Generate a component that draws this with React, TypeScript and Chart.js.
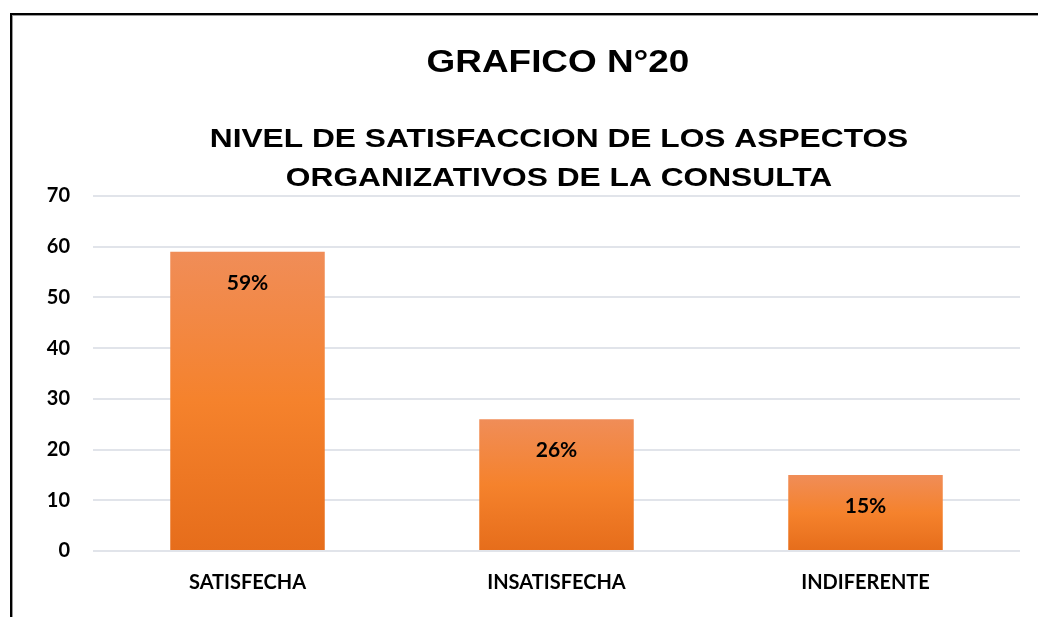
import React, { useEffect, useRef } from "react";
import { Chart, registerables } from "chart.js";

Chart.register(...registerables);

const categories = ["SATISFECHA", "INSATISFECHA", "INDIFERENTE"];
const values = [59, 26, 15];
const valueLabels = ["59%", "26%", "15%"];
const titleText = "GRAFICO N°20";
const subtitleLines = ["NIVEL DE SATISFACCION DE LOS ASPECTOS", "ORGANIZATIVOS DE LA CONSULTA"];

const labelFont = "Lato, 'Open Sans', sans-serif";

export default function App() {
  const ref = useRef<HTMLCanvasElement | null>(null);

  useEffect(() => {
    const canvas = ref.current;
    if (!canvas) return;

    const drawStretched = (ctx: any, text: string, cx: number, y: number, sx: number) => {
      ctx.save();
      ctx.translate(cx, y);
      ctx.scale(sx, 1);
      ctx.fillText(text, 0, 0);
      ctx.restore();
    };

    const titlePlugin = {
      id: "titles",
      afterDraw(chart: any) {
        const ctx = chart.ctx;
        ctx.save();
        ctx.fillStyle = "#000";
        ctx.textAlign = "center";
        ctx.textBaseline = "alphabetic";
        ctx.font = "bold 31px 'Liberation Sans', Arial, sans-serif";
        drawStretched(ctx, titleText, 558, 72, 1.19);
        ctx.font = "bold 26px 'Liberation Sans', Arial, sans-serif";
        drawStretched(ctx, subtitleLines[0], 559, 147, 1.22);
        drawStretched(ctx, subtitleLines[1], 559, 186, 1.22);
        ctx.restore();
      },
    };

    const valuePlugin = {
      id: "values",
      afterDatasetsDraw(chart: any) {
        const ctx = chart.ctx;
        const meta = chart.getDatasetMeta(0);
        ctx.save();
        ctx.fillStyle = "#000";
        ctx.textAlign = "center";
        ctx.textBaseline = "middle";
        ctx.font = `bold 21px ${labelFont}`;
        meta.data.forEach((bar: any, i: number) => {
          ctx.fillText(valueLabels[i], bar.x, bar.y + 31);
        });
        ctx.restore();
      },
    };

    const chart = new Chart(canvas, {
      type: "bar",
      data: {
        labels: categories,
        datasets: [
          {
            data: values,
            barPercentage: 0.5,
            categoryPercentage: 1,
            backgroundColor: (c: any) => {
              const ch = c.chart;
              const ys = ch.scales && ch.scales.y;
              if (!ys || c.raw == null) return "#F5822E";
              const top = ys.getPixelForValue(c.raw);
              const bottom = ys.getPixelForValue(0);
              if (!isFinite(top) || !isFinite(bottom) || top === bottom) return "#F5822E";
              const g = ch.ctx.createLinearGradient(0, top, 0, bottom);
              g.addColorStop(0, "#F08D58");
              g.addColorStop(0.5, "#F5822C");
              g.addColorStop(1, "#E66D1B");
              return g;
            },
            borderWidth: 0,
          },
        ],
      },
      options: {
        responsive: false,
        animation: false,
        maintainAspectRatio: false,
        layout: { padding: { top: 196, left: 10, right: 18, bottom: 0 } },
        plugins: {
          legend: { display: false },
          title: { display: false },
          tooltip: { enabled: false },
        },
        scales: {
          x: {
            grid: { display: false, drawTicks: false },
            border: { display: false },
            ticks: {
              color: "#000",
              padding: 20,
              font: { family: labelFont, weight: "bold", size: 20 },
            },
            afterFit(scale: any) {
              scale.height = 66;
            },
          },
          y: {
            min: 0,
            max: 70,
            ticks: {
              stepSize: 10,
              color: "#000",
              padding: 23,
              font: { family: labelFont, weight: "bold", size: 20 },
            },
            grid: { color: "#E1E4EA", lineWidth: 2, drawTicks: false },
            border: { display: false },
            afterFit(scale: any) {
              scale.width = 83;
            },
          },
        },
      },
      plugins: [titlePlugin, valuePlugin],
    } as any);

    return () => chart.destroy();
  }, []);

  return (
    <div style={{ position: "absolute", left: 0, top: 0, width: 1038, height: 617, background: "#fff", overflow: "hidden" }}>
      <canvas ref={ref} width={1038} height={617} style={{ position: "absolute", left: 0, top: 0 }} />
      <div style={{ position: "absolute", left: 10, top: 13, width: 1040, height: 700, borderLeft: "2px solid #000", borderTop: "2px solid #000", boxShadow: "1px 1px 0 #999 inset" }} />
    </div>
  );
}
